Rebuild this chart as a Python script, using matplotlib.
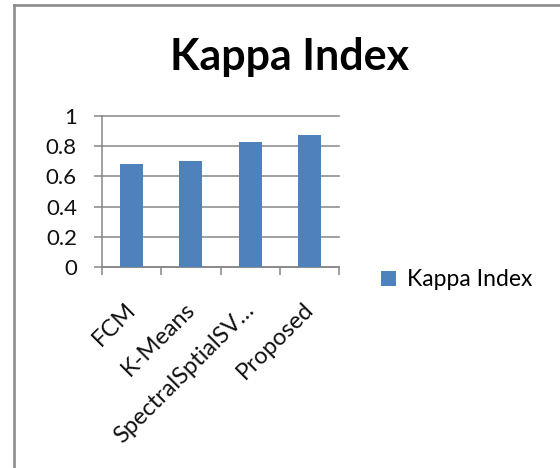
import matplotlib
matplotlib.use("Agg")
import matplotlib.pyplot as plt
from matplotlib.lines import Line2D
from matplotlib.ticker import FixedLocator
from matplotlib.transforms import ScaledTranslation

methods = ["FCM", "K-Means", "SpectralSptialSV\u2026", "Proposed"]
kappa = [0.68, 0.705, 0.826, 0.877]
series_name = "Kappa Index"
y_ticks = [0, 0.2, 0.4, 0.6, 0.8, 1]
y_tick_labels = ["0", "0.2", "0.4", "0.6", "0.8", "1"]

W, H = 560, 468
bar_color = "#4F81BD"
gray = "#868686"

plt.rcParams["font.family"] = ["Lato", "DejaVu Sans"]

fig = plt.figure(figsize=(W / 100, H / 100), dpi=100)
ax = fig.add_axes([102 / W, 1 - 267 / H, (339 - 102) / W, (267 - 116) / H])

x = list(range(len(methods)))
ax.bar(x, kappa, width=0.39, color=bar_color, label=series_name, zorder=3)

ax.set_xlim(-0.5, len(methods) - 0.5)
ax.set_ylim(0, 1)
ax.set_yticks(y_ticks)
ax.set_yticklabels(y_tick_labels, fontsize=16, color="#111111")
ax.grid(axis="y", color=gray, linewidth=1.1, zorder=0)
for gl in ax.get_ygridlines():
    gl.set_clip_on(False)

ax.xaxis.set_minor_locator(FixedLocator([i - 0.5 for i in range(len(methods) + 1)]))
ax.tick_params(axis="x", which="major", length=0, pad=23)
ax.tick_params(axis="x", which="minor", length=6, width=1.1, color=gray)
ax.tick_params(axis="y", length=6, width=1.1, color=gray, pad=12)
ax.set_xticks(x)
ax.set_xticklabels(methods, fontsize=17, rotation=45, ha="right",
                   rotation_mode="anchor", color="#111111")
# nudge the slanted labels a little to the left
shift = ScaledTranslation(-7 / 100, 0, fig.dpi_scale_trans)
for lbl in ax.get_xticklabels():
    lbl.set_transform(lbl.get_transform() + shift)

for side in ["top", "right"]:
    ax.spines[side].set_visible(False)
for side in ["left", "bottom"]:
    ax.spines[side].set_color(gray)
    ax.spines[side].set_linewidth(1.1)

fig.text(290 / W, 1 - 57 / H, "Kappa Index", fontsize=31, fontweight="bold",
         ha="center", va="center", color="black")

fig.legend(loc="center left", bbox_to_anchor=(372 / W, 1 - 280 / H), frameon=False,
           fontsize=16.5, handlelength=0.66, handleheight=0.66, handletextpad=0.45,
           borderaxespad=0)

# outer chart border (left and top edges visible)
fig.add_artist(Line2D([13.5 / W, 13.5 / W], [0, 1 - 5 / H], transform=fig.transFigure,
                      color="#8c8c8c", linewidth=1.9))
fig.add_artist(Line2D([13.5 / W, 1], [1 - 5 / H, 1 - 5 / H], transform=fig.transFigure,
                      color="#8c8c8c", linewidth=1.9))

fig.savefig("out.png", dpi=100)
